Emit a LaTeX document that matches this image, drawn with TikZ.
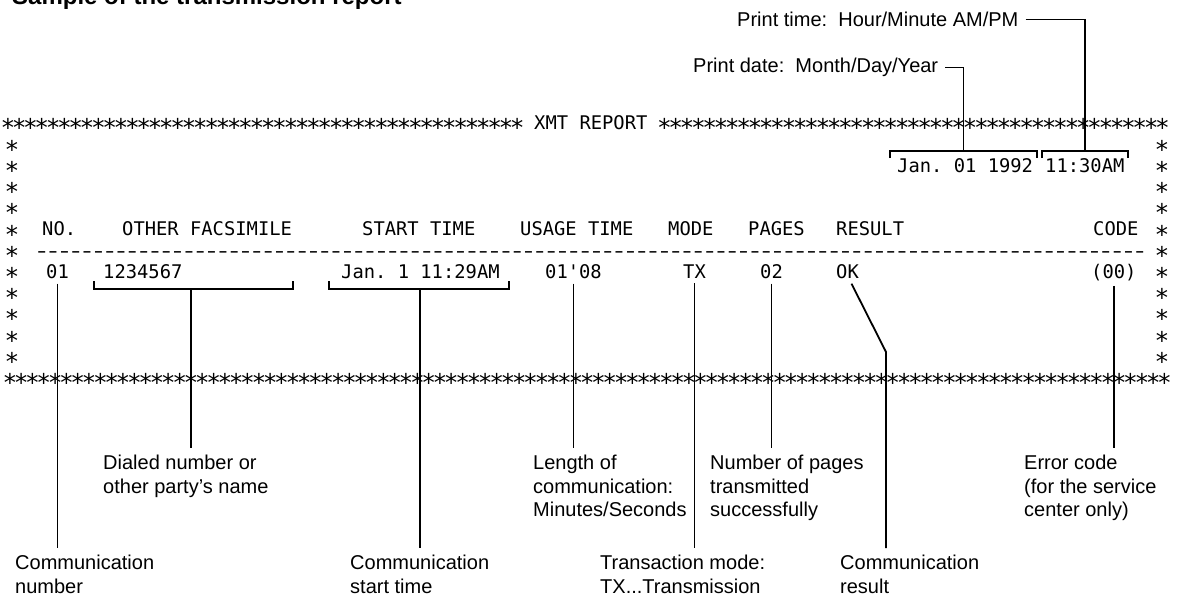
\documentclass[tikz,border=0pt]{standalone}
\usepackage{fontspec}
\setmainfont{Liberation Sans}
\setmonofont{DejaVu Sans Mono}
\newcommand\lowstar[1]{\smash{\raisebox{-0.37em}{#1}}}
\newcommand\st{\makebox[11.32pt]{\scalebox{1.3}{*}}}
\newcommand\tenst{\st\st\st\st\st\st\st\st\st\st}
\newcommand\hy{\makebox[11.32pt]{\scalebox{1.45}[1]{-}}}
\newcommand\tenhy{\hy\hy\hy\hy\hy\hy\hy\hy\hy\hy}
\newcommand\colst{\lowstar{\st}\\\lowstar{\st}\\\lowstar{\st}\\\lowstar{\st}\\\lowstar{\st}\\\lowstar{\st}\\\lowstar{\st}\\\lowstar{\st}\\\lowstar{\st}\\\lowstar{\st}\\\lowstar{\st}}
\begin{document}
\begin{tikzpicture}[x=1pt,y=-1pt,
  lbl/.style={inner sep=0pt, align=left, anchor=north west, font=\fontsize{20}{23.5}\selectfont},
  ttl/.style={inner sep=0pt, anchor=base west, font=\bfseries\fontsize{24}{28}\selectfont},
  prt/.style={inner sep=0pt, anchor=base west, font=\ttfamily\fontsize{18.8}{20}\selectfont\frenchspacing},
  col/.style={inner sep=0pt, align=left, anchor=north west, font=\ttfamily\fontsize{18.8}{21.2}\selectfont},
  ln/.style={line width=1.8pt},
]
\fill[white] (0,0) rectangle (1180,600);
\useasboundingbox (0,0) rectangle (1180,600);

% title (cut off at the top, as in the reference)
\node[ttl] (title) at (12,4) {Sample of the transmission report};

% top labels
\node[lbl] (ptime) at (737,12) {Print time:\ \ Hour/Minute AM/PM};
\node[lbl] (pdate) at (693,58) {Print date:\ \ Month/Day/Year};

% report borders
\node[prt] (topb) at (2,129.85) {\lowstar{\tenst\tenst\tenst\tenst\st\st\st\st\st\st} XMT REPORT \lowstar{\tenst\tenst\tenst\tenst\st\st\st\st\st}};
\node[prt] (botb) at (4,384.25) {\lowstar{\tenst\tenst\tenst\tenst\tenst\tenst\tenst\tenst\tenst\tenst\st\st\st}};
\node[col] (lcol) at (6,151.05) {\colst};
\node[col] (rcol) at (1156,151.05) {\colst};

% date row
\node[prt] (rdate) at (897,172.25) {Jan. 01 1992};
\node[prt] (rtime) at (1045,172.25) {11:30AM};

% header row
\node[prt] (hno) at (42,235.85) {NO.};
\node[prt] (hfax) at (122,235.85) {OTHER FACSIMILE};
\node[prt] (hstart) at (362,235.85) {START TIME};
\node[prt] (husage) at (520,235.85) {USAGE TIME};
\node[prt] (hmode) at (668,235.85) {MODE};
\node[prt] (hpages) at (748,235.85) {PAGES};
\node[prt] (hres) at (836,235.85) {RESULT};
\node[prt] (hcode) at (1093,235.85) {CODE};

% dashed row
\node[prt] (dash) at (36,257.05) {\tenhy\tenhy\tenhy\tenhy\tenhy\tenhy\tenhy\tenhy\tenhy\hy\hy\hy\hy\hy\hy\hy\hy};

% data row
\node[prt] (dno) at (46,278.25) {01};
\node[prt] (dfax) at (103,278.25) {1234567};
\node[prt] (dstart) at (341,278.25) {Jan. 1 11:29AM};
\node[prt] (dusage) at (545,278.25) {01'08};
\node[prt] (dmode) at (683,278.25) {TX};
\node[prt] (dpages) at (760,278.25) {02};
\node[prt] (dres) at (836,278.25) {OK};
\node[prt] (dcode) at (1091,278.25) {(00)};

% bottom labels
\node[lbl] (dial) at (103,455) {Dialed number or\\other party's name};
\node[lbl] (len) at (533,455) {Length of\\communication:\\Minutes/Seconds};
\node[lbl] (npg) at (710,455) {Number of pages\\transmitted\\successfully};
\node[lbl] (err) at (1024,455) {Error code\\(for the service\\center only)};
\node[lbl] (cnum) at (15,555) {Communication\\number};
\node[lbl] (cst) at (350,555) {Communication\\start time};
\node[lbl] (tmode) at (600,555) {Transaction mode:\\TX...Transmission};
\node[lbl] (cres) at (840,555) {Communication\\result};

% top brackets and leaders
\coordinate (bdate) at (963.5,151);
\coordinate (btime) at (1085,151);
\draw[ln] (890,158) -- (890,151) -- (1037,151) -- (1037,158);
\draw[ln] (1042,158) -- (1042,151) -- (1128,151) -- (1128,158);
\draw[ln] ([xshift=7pt]ptime.east) -| (btime);
\draw[ln] ([xshift=7pt]pdate.east) -| (bdate);

% lower brackets
\coordinate (bfax) at (191,289);
\coordinate (bstart) at (420,289);
\draw[ln] (94,281) -- (94,289) -- (293,289) -- (293,281);
\draw[ln] (329,281) -- (329,289) -- (509,289) -- (509,281);

% leaders to the labels below
\draw[ln, shorten >=7pt] ([yshift=-5pt]dno.south) -- (dno.south |- cnum.north);
\draw[ln, shorten >=7pt] (bfax) -- (bfax |- dial.north);
\draw[ln, shorten >=7pt] (bstart) -- (bstart |- cst.north);
\draw[ln, shorten >=7pt] ([yshift=-5pt]dusage.south) -- (dusage.south |- len.north);
\draw[ln, shorten >=7pt] ([yshift=-5pt]dmode.south) -- (dmode.south |- tmode.north);
\draw[ln, shorten >=7pt] ([yshift=-5pt]dpages.south) -- (dpages.south |- npg.north);
\coordinate (okb) at (886,352);
\draw[ln, shorten >=7pt] ([xshift=4pt,yshift=-5pt]dres.south) -- (okb) -- (okb |- cres.north);
\draw[ln, shorten >=7pt] ([yshift=-5pt]dcode.south) -- (dcode.south |- err.north);
\end{tikzpicture}
\end{document}
